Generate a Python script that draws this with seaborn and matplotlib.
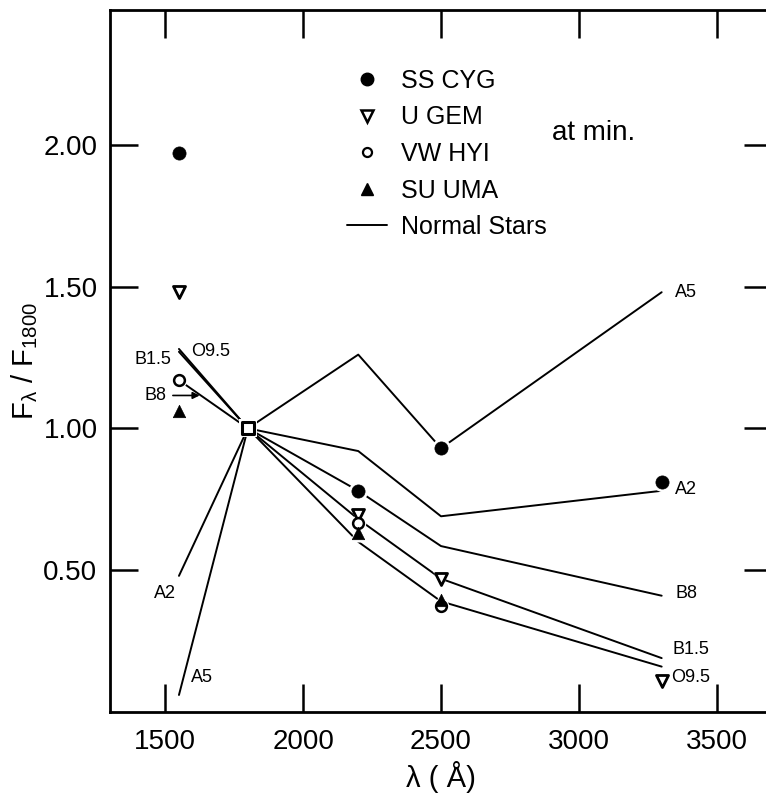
import matplotlib
matplotlib.use("Agg")
import matplotlib.pyplot as plt
import numpy as np
import pandas as pd
import seaborn as sns
from matplotlib.lines import Line2D

# ---------------- data ----------------
star_wavelength = [1550, 1800, 2200, 2500, 3300]
star_A5 = [0.06, 1.00, 1.26, 0.93, 1.48]
star_A2 = [0.48, 1.00, 0.92, 0.69, 0.78]
star_B8 = [1.17, 1.00, 0.78, 0.585, 0.41]
star_B15 = [1.28, 1.00, 0.68, 0.47, 0.19]
star_O95 = [1.27, 1.00, 0.60, 0.39, 0.16]
star_names = ["A5", "A2", "B8", "B1.5", "O9.5"]

ss_cyg_wl = [1550, 2200, 2500, 3300]
ss_cyg_flux = [1.97, 0.78, 0.93, 0.81]
u_gem_wl = [1550, 2200, 2500, 3300]
u_gem_flux = [1.48, 0.695, 0.47, 0.11]
vw_hyi_wl = [1550, 2200, 2500]
vw_hyi_flux = [1.17, 0.665, 0.375]
su_uma_wl = [1550, 2200, 2500]
su_uma_flux = [1.06, 0.63, 0.395]
ref_wl = [1800]
ref_flux = [1.00]

x_ticks = [1500, 2000, 2500, 3000, 3500]
x_ticklabels = ["1500", "2000", "2500", "3000", "3500"]
y_ticks = [0.5, 1.0, 1.5, 2.0]
y_ticklabels = ["0.50", "1.00", "1.50", "2.00"]

# ---------------- style ----------------
sns.set_theme(style="ticks")
plt.rcParams["font.family"] = ["Liberation Sans", "DejaVu Sans"]
plt.rcParams["mathtext.fontset"] = "custom"
plt.rcParams["mathtext.rm"] = "Liberation Sans"
plt.rcParams["mathtext.it"] = "Liberation Sans"
plt.rcParams["mathtext.default"] = "rm"
plt.rcParams["text.color"] = "black"
plt.rcParams["axes.labelcolor"] = "black"
plt.rcParams["xtick.color"] = "black"
plt.rcParams["ytick.color"] = "black"
plt.rcParams["axes.edgecolor"] = "black"

fig = plt.figure(figsize=(7.66, 7.95), dpi=100)
ax = fig.add_axes([110 / 766, 83 / 795, 662 / 766, 702 / 795])

# normal stars lines
series = [star_A5, star_A2, star_B8, star_B15, star_O95]
rows = []
for name, vals in zip(star_names, series):
    for w, v in zip(star_wavelength, vals):
        rows.append({"wl": w, "flux": v, "star": name})
df_stars = pd.DataFrame(rows)
sns.lineplot(data=df_stars, x="wl", y="flux", units="star", estimator=None,
             sort=False, color="black", linewidth=1.4, ax=ax, legend=False, zorder=2)

def pts(wl, fl, marker, s, face, edge, lw):
    # white halo so that lines stop short of the symbols
    sns.scatterplot(x=wl, y=fl, marker=marker, s=s * 2.1, color="white",
                    linewidth=0, ax=ax, zorder=3, legend=False)
    sns.scatterplot(x=wl, y=fl, marker=marker, s=s, color=face, edgecolor=edge,
                    linewidth=lw, ax=ax, zorder=4, legend=False)

pts(ss_cyg_wl, ss_cyg_flux, "o", 90, "black", "black", 0.5)
pts(u_gem_wl, u_gem_flux, "v", 75, "white", "black", 2.0)
pts(vw_hyi_wl, vw_hyi_flux, "o", 60, "white", "black", 1.8)
pts(su_uma_wl, su_uma_flux, "^", 80, "black", "black", 0.5)
pts(ref_wl, ref_flux, "s", 85, "white", "black", 2.2)

# labels on the lines
lab_fs = 13
for txt, x, y in [("A5", 3350, 1.48), ("A2", 3350, 0.783), ("B8", 3350, 0.419),
                  ("B1.5", 3340, 0.219), ("O9.5", 3335, 0.12)]:
    ax.text(x, y, txt, fontsize=lab_fs, ha="left", va="center", color="black")
ax.text(1522, 1.243, "B1.5", fontsize=lab_fs, ha="right", va="center", color="black")
ax.text(1594, 1.271, "O9.5", fontsize=lab_fs, ha="left", va="center", color="black")
ax.text(1460, 0.419, "A2", fontsize=lab_fs, ha="left", va="center", color="black")
ax.text(1594, 0.12, "A5", fontsize=lab_fs, ha="left", va="center", color="black")
ax.annotate("B8", xy=(1625, 1.116), xytext=(1506, 1.116), fontsize=lab_fs,
            ha="right", va="center", color="black",
            arrowprops=dict(arrowstyle="-|>", color="black", lw=1.2,
                            mutation_scale=10, shrinkA=2, shrinkB=0))
ax.text(2904, 2.042, "at min.", fontsize=20, ha="left", va="center", color="black")

# legend
handles = [
    Line2D([], [], marker="o", ls="none", color="black", ms=9, label="SS CYG"),
    Line2D([], [], marker="v", ls="none", mfc="white", mec="black", mew=1.8, ms=8, label="U GEM"),
    Line2D([], [], marker="o", ls="none", mfc="white", mec="black", mew=1.6, ms=6.5, label="VW HYI"),
    Line2D([], [], marker="^", ls="none", color="black", ms=8, label="SU UMA"),
    Line2D([], [], color="black", lw=1.4, label="Normal Stars"),
]
leg = ax.legend(handles=handles, loc="upper left", bbox_to_anchor=(347 / 766, 1 - 69 / 795),
                bbox_transform=fig.transFigure, frameon=False, fontsize=18,
                handlelength=1.6, handletextpad=0.55, labelspacing=0.5,
                borderpad=0, borderaxespad=0, labelcolor="black")

# axes
ax.set_xlim(1300, 3700)
ax.set_ylim(0, 2.475)
ax.set_xticks(x_ticks, labels=x_ticklabels)
ax.set_yticks(y_ticks, labels=y_ticklabels)
ax.tick_params(direction="in", length=20, width=1.8, top=True, right=True,
               labelsize=20, color="black", labelcolor="black")
ax.tick_params(axis="x", pad=12)
ax.tick_params(axis="y", pad=9)
for sp in ax.spines.values():
    sp.set_linewidth(2.0)
    sp.set_color("black")

ax.set_xlabel("λ ( Å)", fontsize=21, color="black", va="center")
ax.xaxis.set_label_coords(0.5, (712 - 777) / 702)
ax.set_ylabel("F$_{λ}$ / F$_{1800}$", fontsize=21, color="black", va="center")
ax.yaxis.set_label_coords((25 - 110) / 662, 0.5)

fig.savefig("out.png", dpi=100)
